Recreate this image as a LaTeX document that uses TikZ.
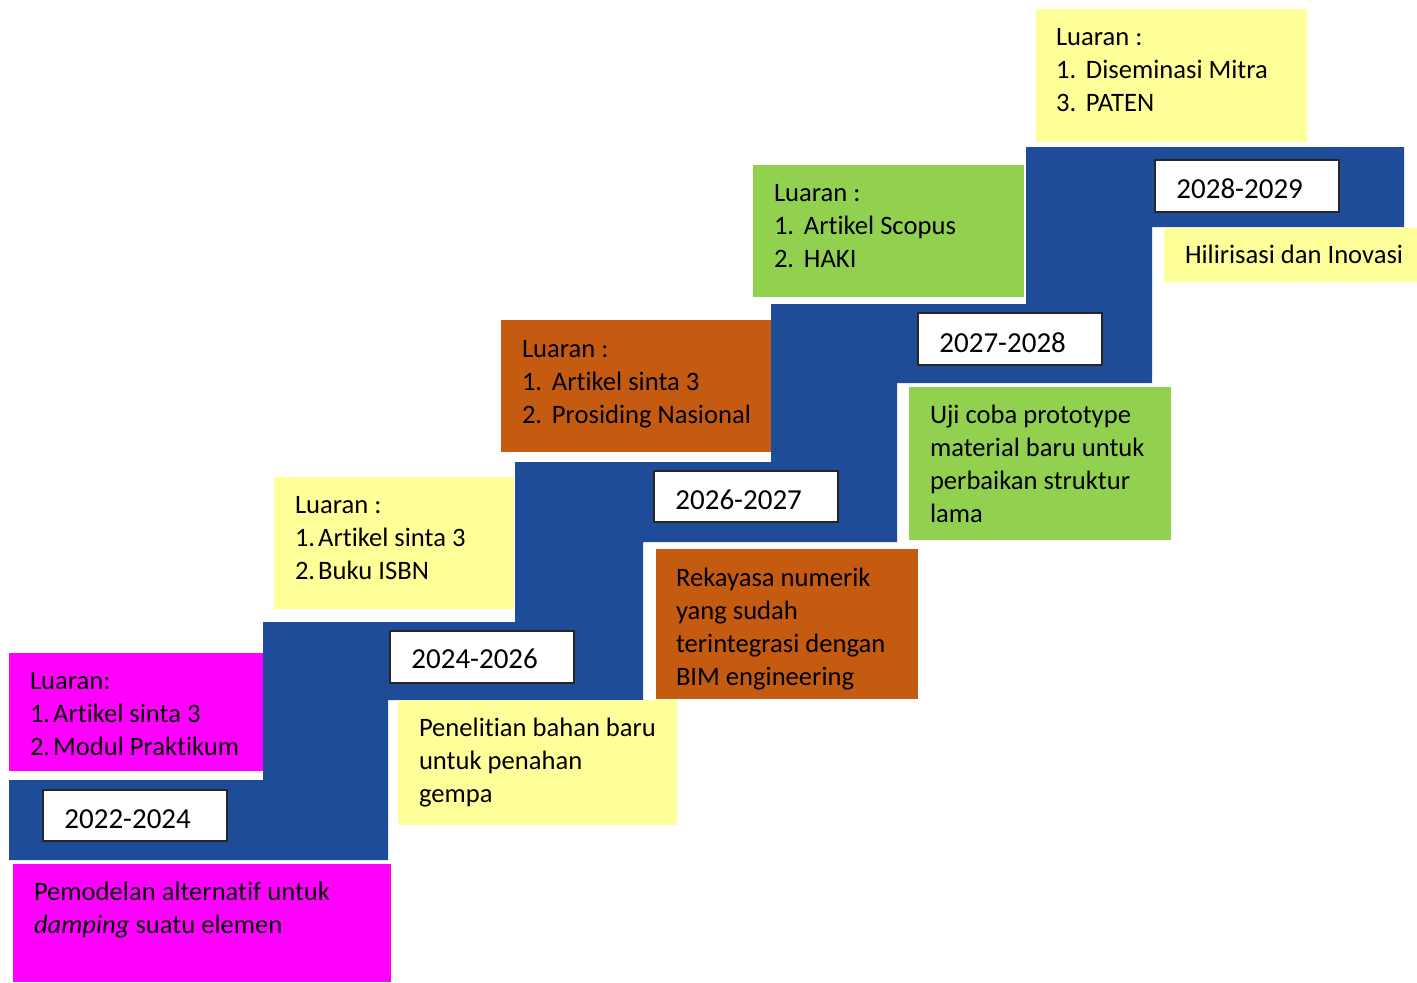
\documentclass[tikz,border=0pt]{standalone}
\usepackage{fontspec}
\setmainfont{Carlito}[RawFeature={-liga;-clig;-calt;-dlig;-rlig}]
\definecolor{stairblue}{RGB}{31,76,152}
\definecolor{boxmagenta}{RGB}{255,0,255}
\definecolor{boxyellow}{RGB}{255,255,153}
\definecolor{boxorange}{RGB}{197,90,17}
\definecolor{boxgreen}{RGB}{146,208,80}
\newcommand\fl{\rule{0pt}{10pt}}
\newcommand\tabitem[2]{\makebox[15pt][l]{#1}#2}
\newcommand\plainitem[2]{#1\hspace{1.5pt}#2}
\begin{document}
\begin{tikzpicture}[x=0.5pt,y=-0.5pt,
  body/.style={anchor=north west, inner sep=0pt, outer sep=0pt, align=left,
    font=\fontsize{13.3}{16.5}\selectfont},
  yeartxt/.style={anchor=base west, inner sep=0pt, font=\fontsize{14.5}{17}\selectfont},
  yearframe/.style={fill=white, draw=black!85, line width=0.8pt}]
\useasboundingbox (0,0) rectangle (1417,982);
% staircase
\fill[stairblue] (9,860) -- (388,860) -- (388,700) -- (643,700) -- (643,542)
  -- (897,542) -- (897,383) -- (1152,383) -- (1152,227) -- (1404,227)
  -- (1404,147) -- (1026,147) -- (1026,304) -- (771,304) -- (771,462)
  -- (515,462) -- (515,622) -- (263,622) -- (263,780) -- (9,780) -- cycle;
% coloured boxes
\fill[boxmagenta] (9,653) rectangle (263,771);
\fill[boxmagenta] (13,864) rectangle (391,982);
\fill[boxyellow] (274,477) rectangle (514,609);
\fill[boxyellow] (398,700) rectangle (677,825);
\fill[boxorange] (501,320) rectangle (771,452);
\fill[boxorange] (656,549) rectangle (918,699);
\fill[boxgreen] (753,165) rectangle (1024,297);
\fill[boxgreen] (909,387) rectangle (1171,540);
\fill[boxyellow] (1036,9) rectangle (1307,142);
\fill[boxyellow] (1164,228) rectangle (1417,282);
% year frames
\draw[yearframe] (43,790) rectangle (227,841);
\draw[yearframe] (390,631) rectangle (574,683);
\draw[yearframe] (654,471) rectangle (838,522);
\draw[yearframe] (918,313) rectangle (1102,365);
\draw[yearframe] (1155,160) rectangle (1339,212);
% year texts
\node[yeartxt] (y1) at (64,828) {2022-2024};
\node[yeartxt] (y2) at (411,668) {2024-2026};
\node[yeartxt] (y3) at (675,509) {2026-2027};
\node[yeartxt] (y4) at (939,352) {2027-2028};
\node[yeartxt] (y5) at (1176,198) {2028-2029};
% texts
\node[body] (o1) at (30,669) {\fl Luaran:\\\plainitem{1.}{Artikel sinta 3}\\\plainitem{2.}{Modul Praktikum}};
\node[body] (r1) at (34,880) {\fl Pemodelan alternatif untuk\\\textit{damping} suatu elemen};
\node[body] (o2) at (295,493) {\fl Luaran :\\\plainitem{1.}{Artikel sinta 3}\\\plainitem{2.}{Buku ISBN}};
\node[body] (r2) at (419,716) {\fl Penelitian bahan baru\\untuk penahan\\gempa};
\node[body] (o3) at (522,337) {\fl Luaran :\\\tabitem{1.}{Artikel sinta 3}\\\tabitem{2.}{Prosiding Nasional}};
\node[body] (r3) at (676,566) {\fl Rekayasa numerik\\yang sudah\\terintegrasi dengan\\BIM engineering};
\node[body] (o4) at (774,181) {\fl Luaran :\\\tabitem{1.}{Artikel Scopus}\\\tabitem{2.}{HAKI}};
\node[body] (r4) at (930,403) {\fl Uji coba prototype\\material baru untuk\\perbaikan struktur\\lama};
\node[body] (o5) at (1056,25) {\fl Luaran :\\\tabitem{1.}{Diseminasi Mitra}\\\tabitem{3.}{PATEN}};
\node[body] (r5) at (1185,243) {\fl Hilirisasi dan Inovasi};
\end{tikzpicture}
\end{document}
